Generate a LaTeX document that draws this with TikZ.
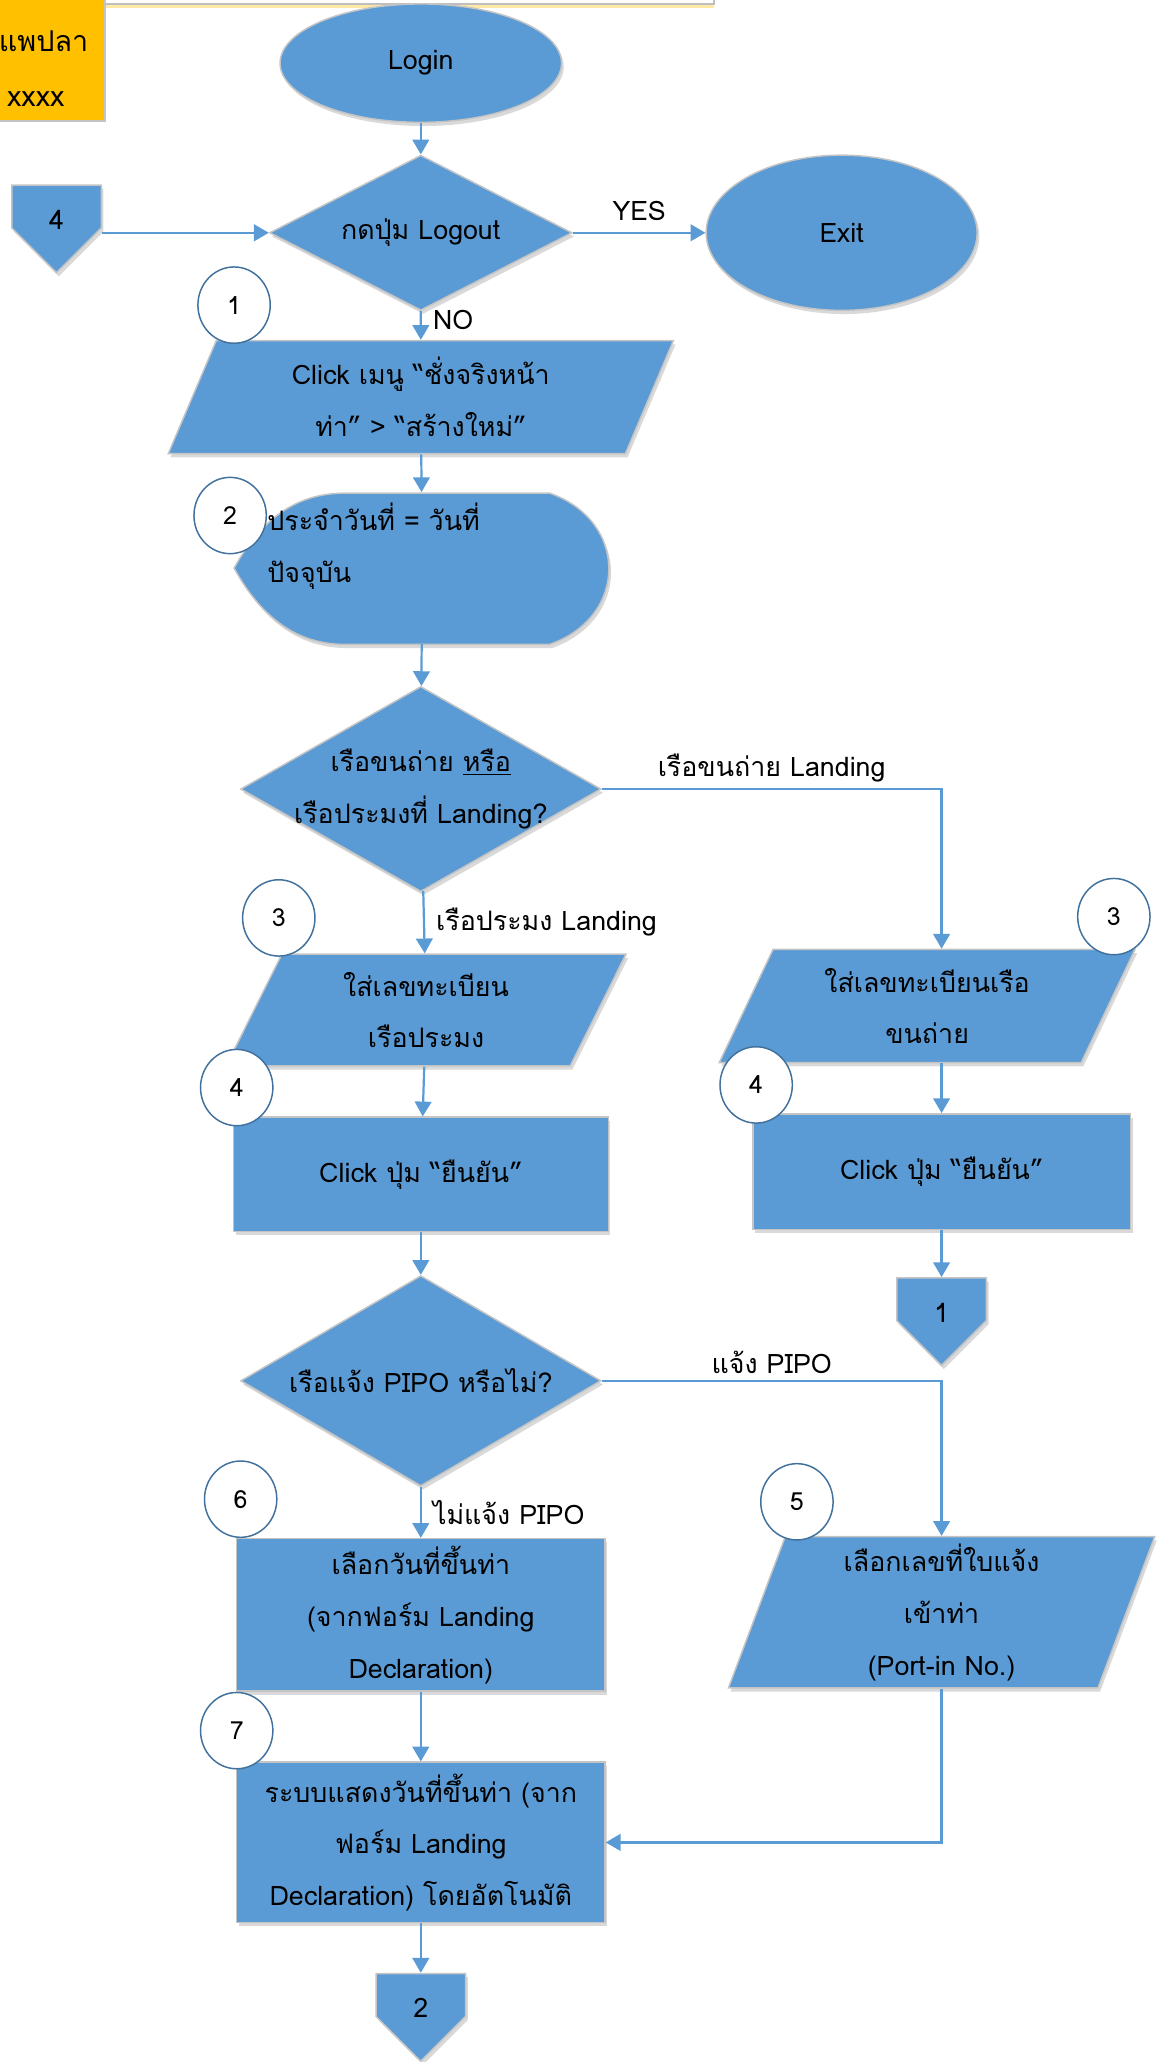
\documentclass[tikz,border=0pt]{standalone}
\usepackage{fontspec}
\setmainfont[Script=Thai]{Loma}
\usetikzlibrary{shapes.geometric,shapes.symbols,arrows.meta,quotes,shadows}
\definecolor{flowblue}{HTML}{5B9BD5}
\definecolor{rimgray}{HTML}{C4C4C4}
\definecolor{ringblue}{HTML}{41719C}
\definecolor{notegold}{HTML}{FFC000}

\begin{document}
\begin{tikzpicture}[x=0.025cm,y=-0.025cm,
  font=\fontsize{14.5}{28}\selectfont,
  blk/.style={fill=flowblue, draw=rimgray, line width=0.8pt, align=center, inner sep=1pt,
    drop shadow={shadow xshift=1.2pt, shadow yshift=-2pt, fill=black, opacity=0.15}},
  terminal/.style={blk, ellipse},
  decision/.style={blk, diamond, inner sep=0pt},
  io/.style={blk, trapezium, trapezium stretches body, trapezium left angle=60, trapezium right angle=120},
  process/.style={blk, rectangle},
  offpage/.style={blk, signal, signal to=south, signal from=nowhere, minimum width=1.7cm, minimum height=0.85cm,
    label={[yshift=-0.25cm]center:#1}},
  stepno/.style={ellipse, draw=ringblue, fill=white, line width=0.8pt, minimum width=1.375cm, minimum height=1.45cm, inner sep=0pt,
    font=\fontsize{13.5}{16}\selectfont},
  flow/.style={draw=flowblue, line width=1.2pt, -{Triangle[width=9pt,length=8pt]}},
  every edge quotes/.style={auto, inner sep=6pt}]
\useasboundingbox (0,0) rectangle (887,1568);

\draw[black!25, fill=white, line width=0.8pt, drop shadow={fill=notegold, opacity=0.35, shadow xshift=0pt, shadow yshift=-2pt}] (80,-20) rectangle (543,3);
\fill[notegold, draw=rimgray, line width=0.8pt] (-10,-10) rectangle (80,92);
\node[anchor=east, font=\fontsize{15.5}{28}\selectfont] (firmname) at (72,31) {แพปลา};
\node[anchor=east, font=\fontsize{15.5}{28}\selectfont] (firmno) at (54,75) {xxxx};

\node[terminal, minimum width=5.35cm, minimum height=2.25cm] (login) at (320,48) {Login};
\node[decision, minimum width=5.75cm, minimum height=2.95cm, label=center:{กดปุ่ม Logout}] (dlog) at (320,177) {};
\node[terminal, minimum width=5.15cm, minimum height=2.95cm] (exit) at (640,177) {Exit};
\node[offpage=4] (off4) at (43,157) {};
\node[io, minimum width=9.6cm, minimum height=2.15cm] (p1) at (320,302) {Click เมนู “ชั่งจริงหน้า\\ท่า” > “สร้างใหม่”};

\draw[blk] (178,432) .. controls (200,392) and (228,375) .. (262,375) -- (418,375)
  .. controls (478,396) and (478,469) .. (418,490) -- (262,490)
  .. controls (228,490) and (200,472) .. (178,432) -- cycle;
\node[minimum width=7.2cm, minimum height=2.875cm, inner sep=0pt] (disp) at (321,432) {};
\node[anchor=north west, align=left, inner sep=0pt] (disptext) at (203,382) {ประจำวันที่ = วันที่\\ปัจจุบัน};

\node[decision, minimum width=6.85cm, minimum height=3.9cm, label={[align=center]center:{เรือขนถ่าย \underline{หรือ}\\เรือประมงที่ Landing?}}] (d2) at (320,600) {};
\node[io, trapezium left angle=55, trapezium right angle=125, minimum width=7.6cm, minimum height=2.125cm] (p2) at (324,768) {ใส่เลขทะเบียน\\เรือประมง};
\node[io, trapezium left angle=56, trapezium right angle=124, minimum width=7.9cm, minimum height=2.15cm] (p3) at (705,765) {ใส่เลขทะเบียนเรือ\\ขนถ่าย};
\node[process, minimum width=7.125cm, minimum height=2.175cm] (rL) at (320,893) {Click ปุ่ม “ยืนยัน”};
\node[process, minimum width=7.175cm, minimum height=2.2cm] (rR) at (716,891) {Click ปุ่ม “ยืนยัน”};
\node[offpage=1] (off1) at (716,988) {};

\node[decision, minimum width=6.85cm, minimum height=4cm, label=center:{เรือแจ้ง PIPO หรือไม่?}] (d3) at (320,1050) {};
\node[process, minimum width=7cm, minimum height=2.9cm] (r6) at (320,1228) {เลือกวันที่ขึ้นท่า\\(จากฟอร์ม Landing\\Declaration)};
\node[io, trapezium left angle=68, trapezium right angle=112, minimum width=8.1cm, minimum height=2.875cm] (p4) at (716,1226) {เลือกเลขที่ใบแจ้ง\\เข้าท่า\\(Port-in No.)};
\node[process, minimum width=7cm, minimum height=3.05cm] (r7) at (320,1401) {ระบบแสดงวันที่ขึ้นท่า (จาก\\ฟอร์ม Landing\\Declaration) โดยอัตโนมัติ};
\node[offpage=2] (off2) at (320,1517) {};

\draw[flow] (login) -- (dlog);
\draw[flow] (dlog) to ["YES"] (exit);
\draw[flow] (off4.east |- dlog) -- (dlog);
\draw[flow] (dlog) to ["NO", pos=0.3] (p1);
\draw[flow] (p1) -- (disp);
\draw[flow] (disp) -- (d2);
\draw[flow] (d2) -| node[pos=0.25, above] {เรือขนถ่าย Landing} (rR.north |- p3.north);
\draw[flow] (d2) to ["เรือประมง Landing"] (p2);
\draw[flow] (p2) -- (rL);
\draw[flow] (p3.south -| rR) -- (rR);
\draw[flow] (rR) -- (off1);
\draw[flow] (rL) -- (d3);
\draw[flow] (d3) -| node[pos=0.25, above] {แจ้ง PIPO} (p4);
\draw[flow] (d3) to ["ไม่แจ้ง PIPO"] (r6);
\draw[flow] (r6) -- (r7);
\draw[flow] (p4) |- (r7);
\draw[flow] (r7) -- (off2);

\node[stepno] (s1) at (178,232) {1};
\node[stepno] (s2) at (175,392) {2};
\node[stepno] (s3a) at (212,698) {3};
\node[stepno] (s3b) at (847,697) {3};
\node[stepno] (s4a) at (180,827) {4};
\node[stepno] (s4b) at (575,825) {4};
\node[stepno] (s6) at (183,1140) {6};
\node[stepno] (s5) at (606,1142) {5};
\node[stepno] (s7) at (180,1316) {7};
\end{tikzpicture}
\end{document}
